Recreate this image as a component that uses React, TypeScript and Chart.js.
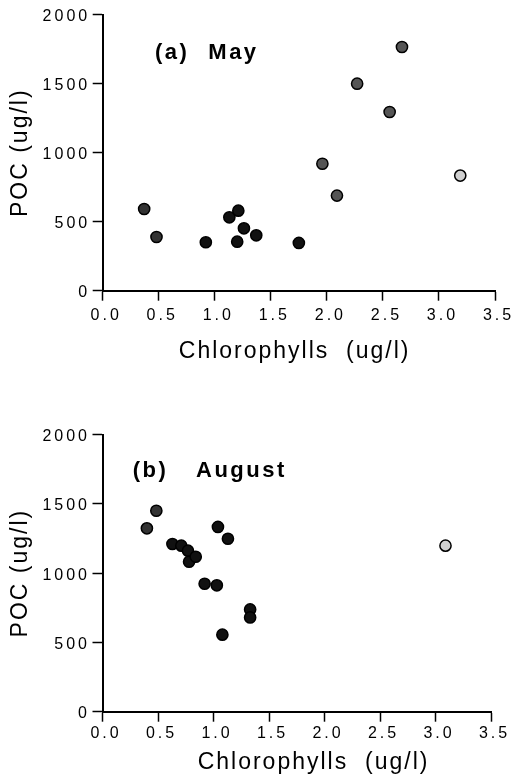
import React, { useEffect, useRef } from 'react';
import { Chart, registerables } from 'chart.js';

Chart.register(...registerables);

// ---- data ----
const mayChl = [0.37, 0.48, 0.92, 1.13, 1.21, 1.26, 1.2, 1.37, 1.75, 1.96, 2.09, 2.27, 2.56, 2.67, 3.19];
const mayPoc = [592, 389, 351, 532, 580, 452, 355, 401, 346, 920, 689, 1500, 1295, 1766, 834];

const augChl = [0.4, 0.485, 0.63, 0.71, 0.77, 0.78, 0.84, 0.92, 1.03, 1.04, 1.13, 1.08, 1.33, 1.33, 3.09];
const augPoc = [1323, 1450, 1210, 1198, 1162, 1082, 1118, 923, 912, 1333, 1248, 556, 738, 680, 1198];

const xTickValues = [0, 0.5, 1, 1.5, 2, 2.5, 3, 3.5];
const xTickLabels = ['0.0', '0.5', '1.0', '1.5', '2.0', '2.5', '3.0', '3.5'];
const yTickValues = [0, 500, 1000, 1500, 2000];
const yTickLabels = ['0', '500', '1000', '1500', '2000'];

const xTitleText = 'Chlorophylls  (ug/l)';
const yTitleText = 'POC (ug/l)';
const panelALabels = ['(a)', 'May'];
const panelBLabels = ['(b)', 'August'];

const FONT = '"Liberation Sans", Arial, Helvetica, sans-serif';

type PanelCfg = {
  chl: number[];
  poc: number[];
  labels: string[];
  top: number;
  height: number;
  padTop: number;
  padRight: number;
  yWidth: number;
  xHeight: number;
  xLabelPad: number;
  xTitlePadBottom: number;
  xTitle: string;
  labelDx: number[];
  labelDy: number;
};

const panels: PanelCfg[] = [
  {
    chl: mayChl,
    poc: mayPoc,
    labels: panelALabels,
    top: 0,
    height: 380,
    padTop: 14.7,
    padRight: 19,
    yWidth: 102.7,
    xHeight: 89.3,
    xLabelPad: 5,
    xTitlePadBottom: 14.2,
    xTitle: xTitleText + ' ',
    labelDx: [52.3, 105.6],
    labelDy: 44.6,
  },
  {
    chl: augChl,
    poc: augPoc,
    labels: panelBLabels,
    top: 390,
    height: 388,
    padTop: 44.5,
    padRight: 23,
    yWidth: 102.5,
    xHeight: 66.3,
    xLabelPad: 2,
    xTitlePadBottom: 1.7,
    xTitle: '    ' + xTitleText,
    labelDx: [30.2, 93.5],
    labelDy: 42.8,
  },
];

function patchSpacing(ctx: any) {
  const orig = ctx.fillText.bind(ctx);
  ctx.fillText = (text: string, x: number, y: number, mw?: number) => {
    const m = /(\d+(?:\.\d+)?)px/.exec(ctx.font);
    const size = m ? parseFloat(m[1]) : 12;
    ctx.letterSpacing = size >= 22.5 ? '2px' : size >= 19 ? '2.5px' : '3px';
    if (mw === undefined) orig(text, x, y);
    else orig(text, x, y, mw);
    ctx.letterSpacing = '0px';
  };
}

const panelLabelPlugin = {
  id: 'panelLabel',
  afterDraw(chart: any, _args: any, opts: any) {
    const { ctx, chartArea } = chart;
    ctx.save();
    ctx.font = `bold 22px ${FONT}`;
    ctx.fillStyle = '#000';
    ctx.textAlign = 'left';
    ctx.textBaseline = 'alphabetic';
    (opts.texts as string[]).forEach((t, i) => {
      ctx.fillText(t, chartArea.left + opts.dx[i], chartArea.top + opts.dy);
    });
    ctx.restore();
  },
};

function pointFill(c: any) {
  const x = c.raw ? c.raw.x : 0;
  if (x > 3) return '#cfcfcf';
  if (x > 1.9) return '#555555';
  if (x < 0.6) return '#333333';
  return '#111111';
}

function buildConfig(p: PanelCfg): any {
  const tickFont = { family: FONT, size: 16 };
  const titleFont = { family: FONT, size: 23 };
  const grid = {
    display: true,
    drawOnChartArea: false,
    drawTicks: true,
    tickLength: 10,
    tickWidth: 1.5,
    tickColor: '#000',
    color: '#000',
  };
  const border = { display: true, color: '#000', width: 2 };
  return {
    type: 'scatter',
    data: {
      datasets: [
        {
          data: p.chl.map((x, i) => ({ x, y: p.poc[i] })),
          pointRadius: 5.6,
          pointHoverRadius: 5.6,
          pointBorderWidth: 1.5,
          pointBorderColor: '#000',
          pointBackgroundColor: pointFill,
          showLine: false,
        },
      ],
    },
    options: {
      responsive: false,
      animation: false,
      devicePixelRatio: 1,
      events: [],
      layout: { padding: { top: p.padTop, right: p.padRight, left: 0, bottom: 0 } },
      plugins: {
        legend: { display: false },
        tooltip: { enabled: false },
        panelLabel: { texts: p.labels, dx: p.labelDx, dy: p.labelDy },
      },
      scales: {
        x: {
          type: 'linear',
          min: 0,
          max: 3.5,
          grid,
          border,
          afterFit: (s: any) => {
            s.height = p.xHeight;
          },
          afterBuildTicks: (s: any) => {
            s.ticks = xTickValues.map((value) => ({ value }));
          },
          ticks: {
            autoSkip: false,
            maxRotation: 0,
            color: '#000',
            font: tickFont,
            padding: p.xLabelPad,
            labelOffset: 3.5,
            callback: (_v: any, i: number) => xTickLabels[i],
          },
          title: {
            display: true,
            text: p.xTitle,
            color: '#000',
            font: titleFont,
            padding: { top: 0, bottom: p.xTitlePadBottom },
          },
        },
        y: {
          type: 'linear',
          min: 0,
          max: 2000,
          grid,
          border,
          afterFit: (s: any) => {
            s.width = p.yWidth;
          },
          afterBuildTicks: (s: any) => {
            s.ticks = yTickValues.map((value) => ({ value }));
          },
          ticks: {
            autoSkip: false,
            color: '#000',
            font: tickFont,
            padding: 2.5,
            labelOffset: 2,
            callback: (_v: any, i: number) => yTickLabels[i],
          },
          title: {
            display: true,
            text: yTitleText,
            color: '#000',
            font: titleFont,
            padding: { top: 7, bottom: 0 },
          },
        },
      },
    },
    plugins: [panelLabelPlugin],
  };
}

function Panel({ p }: { p: PanelCfg }) {
  const ref = useRef<HTMLCanvasElement>(null);
  useEffect(() => {
    const canvas = ref.current!;
    const ctx = canvas.getContext('2d');
    patchSpacing(ctx);
    const chart = new Chart(canvas, buildConfig(p));
    return () => chart.destroy();
  }, [p]);
  return (
    <canvas
      ref={ref}
      width={514}
      height={p.height}
      style={{ position: 'absolute', left: 0, top: p.top, width: 514, height: p.height }}
    />
  );
}

export default function App() {
  return (
    <div style={{ position: 'absolute', left: 0, top: 0, width: 514, height: 778, background: '#fff' }}>
      {panels.map((p, i) => (
        <Panel key={i} p={p} />
      ))}
    </div>
  );
}
